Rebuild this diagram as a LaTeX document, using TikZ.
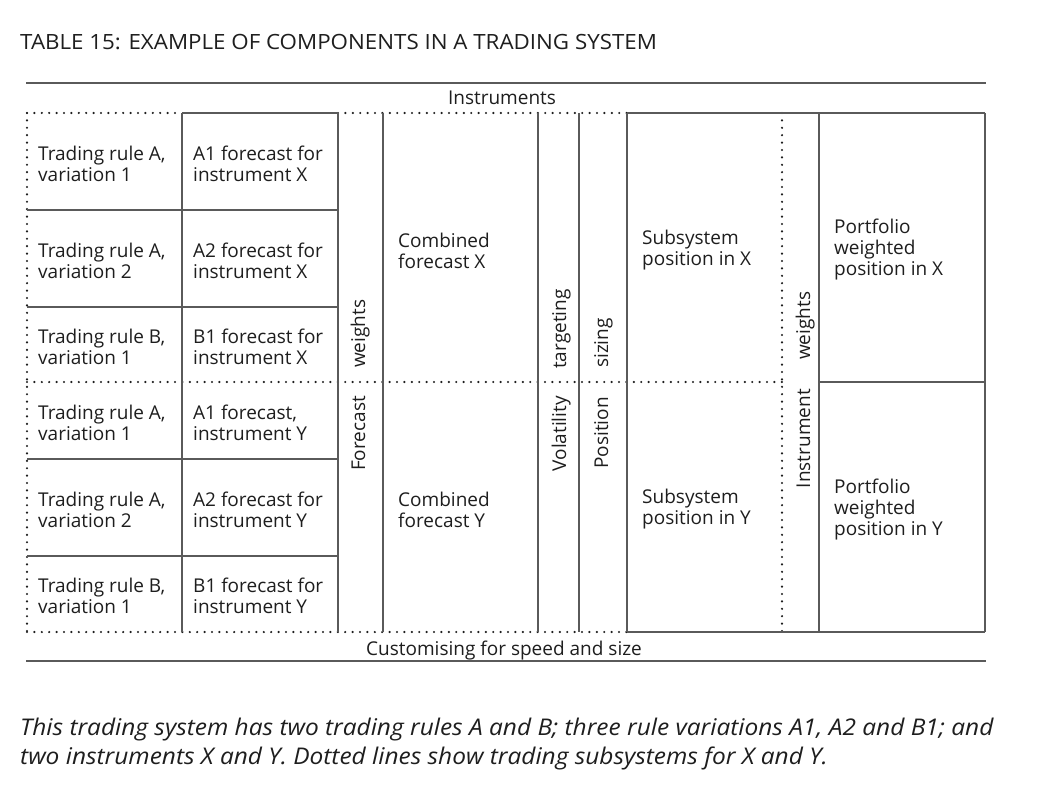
\documentclass[tikz,border=0pt]{standalone}
\usepackage{fontspec}
\setmainfont{Open Sans}
\newfontfamily\widefont[FakeStretch=1.063]{Open Sans}
\definecolor{linegray}{HTML}{5A5A5A}
\definecolor{txt}{HTML}{1E1E1E}
\newcommand\cellfont{\fontsize{19}{21}\selectfont}
\begin{document}
\begin{tikzpicture}[x=1pt,y=-1pt,
  solidline/.style={draw=linegray, line width=1.4pt},
  rule/.style={draw=linegray, line width=2pt},
  dotline/.style={draw=txt, line width=2.4pt, line cap=round, dash pattern=on 0pt off 7.4pt},
  cell/.style={anchor=west, align=left, inner sep=0pt, font=\cellfont, text=txt},
  vlow/.style={rotate=90, anchor=base east, inner sep=0pt, font=\cellfont, text=txt},
  vhigh/.style={rotate=90, anchor=base west, inner sep=0pt, font=\cellfont, text=txt},
  lab/.style={anchor=base, inner sep=0pt, font=\cellfont, text=txt}]
\useasboundingbox (0,0) rectangle (1038,786);
\fill[white] (0,0) rectangle (1038,786);

% title
\node[anchor=base west, inner sep=0pt, font=\widefont\fontsize{21}{24}\selectfont, text=txt] (title) at (20,50) {TABLE 15: EXAMPLE OF COMPONENTS IN A TRADING SYSTEM};

% rules
\draw[rule] (26,83) -- (986,83);
\draw[rule] (26,661) -- (986,661);

% dotted subsystem lines
\draw[dotline] (27,113) -- (182,113);
\draw[dotline] (338,113) -- (627,113);
\draw[dotline] (27,113) -- (27,632);
\draw[dotline] (27,632) -- (627,632);
\draw[dotline] (27,382) -- (782,382);
\draw[dotline] (782,113) -- (782,632);

% solid lines
\draw[solidline] (182,113) -- (338,113);
\foreach \x in {182,338,383,538,579,627,819,985}
  \draw[solidline] (\x,113) -- (\x,632);
\foreach \y in {210,307,459,556}
  \draw[solidline] (27,\y) -- (338,\y);
\draw[solidline] (627,113) -- (985,113);
\draw[solidline] (627,632) -- (985,632);
\draw[solidline] (819,382) -- (985,382);

% labels
\node[lab] (instr) at (502,105) {Instruments};
\node[lab] (cust) at (504,655) {Customising for speed and size};

% cells
\node[cell] (c11) at (38,163.5) {Trading rule A,\\variation 1};
\node[cell] (c12) at (193,163.5) {A1 forecast for\\instrument X};
\node[cell] (c21) at (38,260.5) {Trading rule A,\\variation 2};
\node[cell] (c22) at (193,260.5) {A2 forecast for\\instrument X};
\node[cell] (c31) at (38,346.5) {Trading rule B,\\variation 1};
\node[cell] (c32) at (193,346.5) {B1 forecast for\\instrument X};
\node[cell] (c41) at (38,422.5) {Trading rule A,\\variation 1};
\node[cell] (c42) at (193,422.5) {A1 forecast,\\instrument Y};
\node[cell] (c51) at (38,509.5) {Trading rule A,\\variation 2};
\node[cell] (c52) at (193,509.5) {A2 forecast for\\instrument Y};
\node[cell] (c61) at (38,596) {Trading rule B,\\variation 1};
\node[cell] (c62) at (193,596) {B1 forecast for\\instrument Y};

\node[cell] (combX) at (398,250.5) {Combined\\forecast X};
\node[cell] (combY) at (398,509.5) {Combined\\forecast Y};
\node[cell] (subX) at (642,250.5) {Subsystem\\position in X};
\node[cell] (subY) at (642,509.5) {Subsystem\\position in Y};
\node[cell] (portX) at (834,250) {Portfolio\\weighted\\position in X};
\node[cell] (portY) at (834,510) {Portfolio\\weighted\\position in Y};

% vertical labels
\node[vlow] (fcL) at (365,396) {Forecast};
\node[vhigh] (fcH) at (365,368) {weights};
\node[vlow] (volL) at (566,396) {Volatility};
\node[vhigh] (volH) at (566,369) {targeting};
\node[vlow] (posL) at (608,397) {Position};
\node[vhigh] (posH) at (608,368) {sizing};
\node[vlow] (insL) at (810,389) {Instrument};
\node[vhigh] (insH) at (810,360) {weights};

% caption
\node[anchor=base west, inner sep=0pt, font=\widefont\fontsize{23}{29}\selectfont\itshape, text=txt] (cap) at (20,735)
  {This trading system has two trading rules A and B; three rule variations A1, A2 and B1; and};
\node[anchor=base west, inner sep=0pt, font=\widefont\fontsize{23}{29}\selectfont\itshape, text=txt] (cap2) at (20,764)
  {two instruments X and Y. Dotted lines show trading subsystems for X and Y.};
\end{tikzpicture}
\end{document}
